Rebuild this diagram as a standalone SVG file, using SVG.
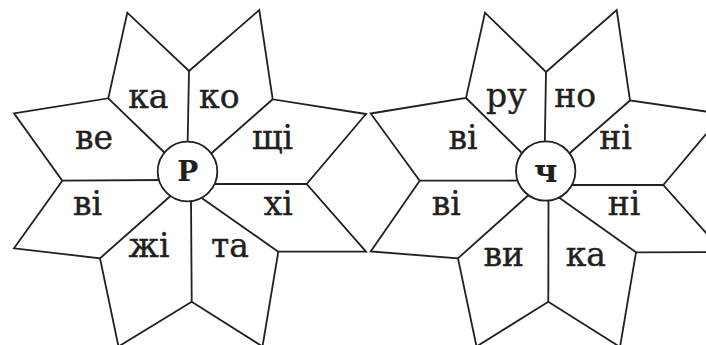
<svg xmlns="http://www.w3.org/2000/svg" width="706" height="345" viewBox="0 0 706 345">
<style>
.ln{fill:none;stroke:#231f20;stroke-width:1.8;stroke-linejoin:miter}
.ctr{fill:#fff;stroke:#231f20;stroke-width:1.8}
.t{font-family:"DejaVu Serif","Liberation Serif",serif;font-size:33px;fill:#231f20;stroke:#231f20;stroke-width:0.4;text-anchor:middle}
.b{font-family:"DejaVu Serif","Liberation Serif",serif;font-weight:bold;fill:#231f20;text-anchor:middle}
</style>
<rect width="706" height="345" fill="#fff"/>
<g id="flower-left">
  <polygon class="ln" points="189,71 259.3,10 272.7,99.3 366,114 306.7,184 366,251.7 278.3,251.7 262.5,346.5 191.7,301.7 118.5,346.5 100,258.3 14,248.3 62.3,180.7 14,113.3 108.3,98.3 127.3,12.7"/>
  <g id="rays-left">
    <line class="ln" x1="189" y1="71" x2="187.5" y2="150"/>
    <line class="ln" x1="108.3" y1="98.3" x2="168" y2="156"/>
    <line class="ln" x1="62.3" y1="180.7" x2="165" y2="180"/>
    <line class="ln" x1="100" y1="258.3" x2="175" y2="192"/>
    <line class="ln" x1="191.7" y1="301.7" x2="191" y2="195"/>
    <line class="ln" x1="278.3" y1="251.7" x2="196" y2="194"/>
    <line class="ln" x1="306.7" y1="184" x2="208" y2="184"/>
    <line class="ln" x1="272.7" y1="99.3" x2="206" y2="158"/>
  </g>
  <g id="center-left">
    <circle class="ctr" cx="187.5" cy="171.5" r="29.8"/>
    <text class="b" x="187.7" y="181" font-size="28">Р</text>
  </g>
  <g id="labels-left">
    <text class="t" x="148.3" y="107.7">ка</text>
    <text class="t" x="219.3" y="107.7">ко</text>
    <text class="t" x="94" y="149">ве</text>
    <text class="t" x="272.5" y="149">щі</text>
    <text class="t" x="87.5" y="215">ві</text>
    <text class="t" x="278.3" y="215">хі</text>
    <text class="t" x="149" y="256.7">жі</text>
    <text class="t" x="230" y="256.7">та</text>
  </g>
</g>
<g id="flower-right">
  <polygon class="ln" points="546,72 616.7,10 630,100.5 723,114 663.3,185 723,252 636,252.3 620,347 548.3,301.7 476.5,346.5 458,258.3 370.7,251.5 419.7,180.7 370.7,113.5 466,98 485,12.7"/>
  <g id="rays-right">
    <line class="ln" x1="546" y1="72" x2="544.7" y2="150"/>
    <line class="ln" x1="466" y1="98" x2="526" y2="157"/>
    <line class="ln" x1="419.7" y1="180.7" x2="523" y2="180.5"/>
    <line class="ln" x1="458" y1="258.3" x2="532" y2="192"/>
    <line class="ln" x1="548.3" y1="301.7" x2="548.5" y2="195"/>
    <line class="ln" x1="636" y1="252.3" x2="554" y2="194"/>
    <line class="ln" x1="663.3" y1="185" x2="566" y2="185"/>
    <line class="ln" x1="630" y1="100.5" x2="564" y2="158"/>
  </g>
  <g id="center-right">
    <circle class="ctr" cx="545.7" cy="171" r="29.7"/>
    <text class="b" x="545.7" y="182" font-size="32">ч</text>
  </g>
  <g id="labels-right">
    <text class="t" x="506.3" y="106.7">ру</text>
    <text class="t" x="575.3" y="106.7">но</text>
    <text class="t" x="463" y="149">ві</text>
    <text class="t" x="615.5" y="149">ні</text>
    <text class="t" x="446.3" y="215">ві</text>
    <text class="t" x="624" y="215">ні</text>
    <text class="t" x="503.8" y="265.7">ви</text>
    <text class="t" x="585.8" y="265.7">ка</text>
  </g>
</g>
</svg>
